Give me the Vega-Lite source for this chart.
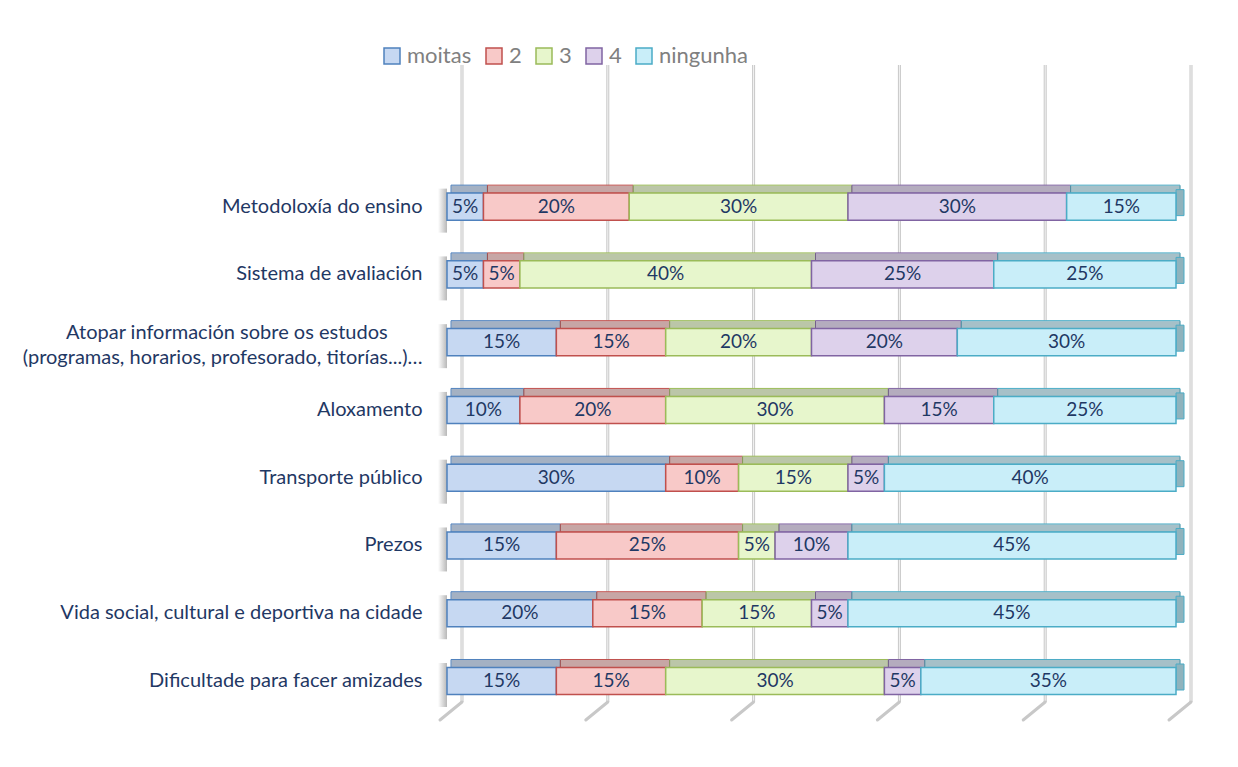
{
  "$schema": "https://vega.github.io/schema/vega-lite/v6.json",
  "width": 729,
  "height": 637,
  "autosize": {"type": "none"},
  "padding": {"left": 447, "top": 65, "right": 62, "bottom": 65},
  "background": "white",
  "config": {
    "view": {"stroke": null},
    "font": "Lato"
  },
  "datasets": {
    "bars": [
      {"item": "Metodoloxía do ensino", "cat": "moitas", "k": 1, "v": 0.05},
      {"item": "Metodoloxía do ensino", "cat": "2", "k": 2, "v": 0.20},
      {"item": "Metodoloxía do ensino", "cat": "3", "k": 3, "v": 0.30},
      {"item": "Metodoloxía do ensino", "cat": "4", "k": 4, "v": 0.30},
      {"item": "Metodoloxía do ensino", "cat": "ningunha", "k": 5, "v": 0.15},
      {"item": "Sistema de avaliación", "cat": "moitas", "k": 1, "v": 0.05},
      {"item": "Sistema de avaliación", "cat": "2", "k": 2, "v": 0.05},
      {"item": "Sistema de avaliación", "cat": "3", "k": 3, "v": 0.40},
      {"item": "Sistema de avaliación", "cat": "4", "k": 4, "v": 0.25},
      {"item": "Sistema de avaliación", "cat": "ningunha", "k": 5, "v": 0.25},
      {"item": "Atopar información sobre os estudos\u2007\u2007\u2007\u200d|(programas, horarios, profesorado, titorías...)…", "cat": "moitas", "k": 1, "v": 0.15},
      {"item": "Atopar información sobre os estudos\u2007\u2007\u2007\u200d|(programas, horarios, profesorado, titorías...)…", "cat": "2", "k": 2, "v": 0.15},
      {"item": "Atopar información sobre os estudos\u2007\u2007\u2007\u200d|(programas, horarios, profesorado, titorías...)…", "cat": "3", "k": 3, "v": 0.20},
      {"item": "Atopar información sobre os estudos\u2007\u2007\u2007\u200d|(programas, horarios, profesorado, titorías...)…", "cat": "4", "k": 4, "v": 0.20},
      {"item": "Atopar información sobre os estudos\u2007\u2007\u2007\u200d|(programas, horarios, profesorado, titorías...)…", "cat": "ningunha", "k": 5, "v": 0.30},
      {"item": "Aloxamento", "cat": "moitas", "k": 1, "v": 0.10},
      {"item": "Aloxamento", "cat": "2", "k": 2, "v": 0.20},
      {"item": "Aloxamento", "cat": "3", "k": 3, "v": 0.30},
      {"item": "Aloxamento", "cat": "4", "k": 4, "v": 0.15},
      {"item": "Aloxamento", "cat": "ningunha", "k": 5, "v": 0.25},
      {"item": "Transporte público", "cat": "moitas", "k": 1, "v": 0.30},
      {"item": "Transporte público", "cat": "2", "k": 2, "v": 0.10},
      {"item": "Transporte público", "cat": "3", "k": 3, "v": 0.15},
      {"item": "Transporte público", "cat": "4", "k": 4, "v": 0.05},
      {"item": "Transporte público", "cat": "ningunha", "k": 5, "v": 0.40},
      {"item": "Prezos", "cat": "moitas", "k": 1, "v": 0.15},
      {"item": "Prezos", "cat": "2", "k": 2, "v": 0.25},
      {"item": "Prezos", "cat": "3", "k": 3, "v": 0.05},
      {"item": "Prezos", "cat": "4", "k": 4, "v": 0.10},
      {"item": "Prezos", "cat": "ningunha", "k": 5, "v": 0.45},
      {"item": "Vida social, cultural e deportiva na cidade", "cat": "moitas", "k": 1, "v": 0.20},
      {"item": "Vida social, cultural e deportiva na cidade", "cat": "2", "k": 2, "v": 0.15},
      {"item": "Vida social, cultural e deportiva na cidade", "cat": "3", "k": 3, "v": 0.15},
      {"item": "Vida social, cultural e deportiva na cidade", "cat": "4", "k": 4, "v": 0.05},
      {"item": "Vida social, cultural e deportiva na cidade", "cat": "ningunha", "k": 5, "v": 0.45},
      {"item": "Dificultade para facer amizades", "cat": "moitas", "k": 1, "v": 0.15},
      {"item": "Dificultade para facer amizades", "cat": "2", "k": 2, "v": 0.15},
      {"item": "Dificultade para facer amizades", "cat": "3", "k": 3, "v": 0.30},
      {"item": "Dificultade para facer amizades", "cat": "4", "k": 4, "v": 0.05},
      {"item": "Dificultade para facer amizades", "cat": "ningunha", "k": 5, "v": 0.35}
    ],
    "grid": [{"g": 0}, {"g": 0.2}, {"g": 0.4}, {"g": 0.6}, {"g": 0.8}, {"g": 1}]
  },
  "layer": [
    {
      "data": {"name": "grid"},
      "mark": {"type": "rule", "xOffset": 15, "stroke": "#c8c8c8", "strokeWidth": 3},
      "encoding": {
        "x": {"field": "g", "type": "quantitative", "axis": null, "scale": {"domain": [0, 1], "nice": false, "zero": true}}
      }
    },
    {
      "data": {"name": "grid"},
      "mark": {"type": "rule", "xOffset": 15, "stroke": "#f4f4f4", "strokeWidth": 1},
      "encoding": {
        "x": {"field": "g", "type": "quantitative", "axis": null}
      }
    },
    {
      "data": {"name": "grid"},
      "mark": {"type": "rule", "xOffset": 15, "x2Offset": -7, "stroke": "#c8c8c8", "strokeWidth": 3, "strokeCap": "round"},
      "encoding": {
        "x": {"field": "g", "type": "quantitative", "axis": null},
        "x2": {"field": "g"},
        "y": {"value": "height"},
        "y2": {"value": {"expr": "height + 18"}}
      }
    },
    {
      "data": {"name": "bars"},
      "transform": [{"filter": "datum.k == 1"}],
      "mark": {"type": "bar", "xOffset": -9, "x2Offset": 0, "height": 44, "yOffset": 4,
        "fill": {"gradient": "linear", "x1": 0, "x2": 1, "y1": 0, "y2": 0, "stops": [{"offset": 0, "color": "#ffffff"}, {"offset": 1, "color": "#b8b8b8"}]}},
      "encoding": {
        "x": {"datum": 0, "type": "quantitative"},
        "x2": {"datum": 0},
        "y": {"field": "item", "type": "nominal", "title": null,
          "sort": ["Metodoloxía do ensino", "Sistema de avaliación", "Atopar información sobre os estudos\u2007\u2007\u2007\u200d|(programas, horarios, profesorado, titorías...)…", "Aloxamento", "Transporte público", "Prezos", "Vida social, cultural e deportiva na cidade", "Dificultade para facer amizades"],
          "scale": {"paddingInner": 0.6, "paddingOuter": 1.0138, "align": 0.945},
          "axis": {"ticks": false, "domain": false, "grid": false, "labelPadding": 25, "labelFontSize": 20, "labelColor": "#1f3864", "labelFont": "Lato", "labelLimit": 600, "labelExpr": "split(datum.label, '|')", "labelLineHeight": 25,
            "labelOffset": {"condition": {"test": "indexof(datum.label, '|') >= 0", "value": -9}, "value": 0}}}
      }
    },
    {
      "data": {"name": "bars"},
      "mark": {"type": "bar", "height": 8, "yOffset": -17.5, "xOffset": 4, "x2Offset": 4, "strokeWidth": 1},
      "encoding": {
        "x": {"field": "v", "type": "quantitative", "stack": "zero"},
        "y": {"field": "item", "type": "nominal", "title": null,
          "sort": ["Metodoloxía do ensino", "Sistema de avaliación", "Atopar información sobre os estudos\u2007\u2007\u2007\u200d|(programas, horarios, profesorado, titorías...)…", "Aloxamento", "Transporte público", "Prezos", "Vida social, cultural e deportiva na cidade", "Dificultade para facer amizades"]},
        "fill": {"field": "cat", "type": "nominal", "title": null},
        "stroke": {"field": "cat", "type": "nominal", "title": null},
        "order": {"field": "k"}
      }
    },
    {
      "data": {"name": "bars"},
      "mark": {"type": "bar", "height": 7, "yOffset": -17.5, "xOffset": 4.5, "x2Offset": 3.5, "fill": "#555555", "fillOpacity": 0.3},
      "encoding": {
        "x": {"field": "v", "type": "quantitative", "stack": "zero"},
        "y": {"field": "item", "type": "nominal", "title": null,
          "sort": ["Metodoloxía do ensino", "Sistema de avaliación", "Atopar información sobre os estudos\u2007\u2007\u2007\u200d|(programas, horarios, profesorado, titorías...)…", "Aloxamento", "Transporte público", "Prezos", "Vida social, cultural e deportiva na cidade", "Dificultade para facer amizades"]},
        "detail": {"field": "cat"},
        "order": {"field": "k"}
      }
    },
    {
      "data": {"name": "bars"},
      "transform": [{"filter": "datum.k == 5"}],
      "mark": {"type": "bar", "xOffset": 0, "x2Offset": 8, "height": 26, "yOffset": -4, "fill": "#8fb3bd", "stroke": "#4bacc6", "strokeWidth": 1},
      "encoding": {
        "x": {"datum": 1, "type": "quantitative"},
        "x2": {"datum": 1},
        "y": {"field": "item", "type": "nominal", "title": null,
          "sort": ["Metodoloxía do ensino", "Sistema de avaliación", "Atopar información sobre os estudos\u2007\u2007\u2007\u200d|(programas, horarios, profesorado, titorías...)…", "Aloxamento", "Transporte público", "Prezos", "Vida social, cultural e deportiva na cidade", "Dificultade para facer amizades"]}
      }
    },
    {
      "data": {"name": "bars"},
      "mark": {"type": "bar", "strokeWidth": 1.5},
      "encoding": {
        "x": {"field": "v", "type": "quantitative", "stack": "zero"},
        "y": {"field": "item", "type": "nominal", "title": null,
          "sort": ["Metodoloxía do ensino", "Sistema de avaliación", "Atopar información sobre os estudos\u2007\u2007\u2007\u200d|(programas, horarios, profesorado, titorías...)…", "Aloxamento", "Transporte público", "Prezos", "Vida social, cultural e deportiva na cidade", "Dificultade para facer amizades"]},
        "fill": {"field": "cat", "type": "nominal", "title": null,
          "scale": {"domain": ["moitas", "2", "3", "4", "ningunha"], "range": ["#c6d8f2", "#f8c9c8", "#e7f6cc", "#ddd1eb", "#c9eef9"]},
          "legend": {"orient": "none", "legendX": -66, "legendY": -20, "direction": "horizontal", "symbolType": "square", "symbolSize": 256, "symbolStrokeWidth": 1.5, "labelFontSize": 22, "labelColor": "#808080", "labelFont": "Lato", "columnPadding": 11, "labelOffset": 4}},
        "stroke": {"field": "cat", "type": "nominal", "title": null,
          "scale": {"domain": ["moitas", "2", "3", "4", "ningunha"], "range": ["#4f81bd", "#c0504d", "#9bbb59", "#8064a2", "#4bacc6"]},
          "legend": {"orient": "none", "legendX": -66, "legendY": -20, "direction": "horizontal", "symbolType": "square", "symbolSize": 256, "symbolStrokeWidth": 1.5, "labelFontSize": 22, "labelColor": "#808080", "labelFont": "Lato", "columnPadding": 11, "labelOffset": 4}},
        "order": {"field": "k"}
      }
    },
    {
      "data": {"name": "bars"},
      "mark": {"type": "text", "color": "#1f3864", "fontSize": 19, "font": "Lato", "baseline": "middle", "align": "center"},
      "encoding": {
        "x": {"field": "v", "type": "quantitative", "stack": "zero", "bandPosition": 0.5},
        "y": {"field": "item", "type": "nominal", "title": null,
          "sort": ["Metodoloxía do ensino", "Sistema de avaliación", "Atopar información sobre os estudos\u2007\u2007\u2007\u200d|(programas, horarios, profesorado, titorías...)…", "Aloxamento", "Transporte público", "Prezos", "Vida social, cultural e deportiva na cidade", "Dificultade para facer amizades"]},
        "detail": {"field": "cat"},
        "text": {"field": "v", "type": "quantitative", "format": ".0%"},
        "order": {"field": "k"}
      }
    }
  ]
}
